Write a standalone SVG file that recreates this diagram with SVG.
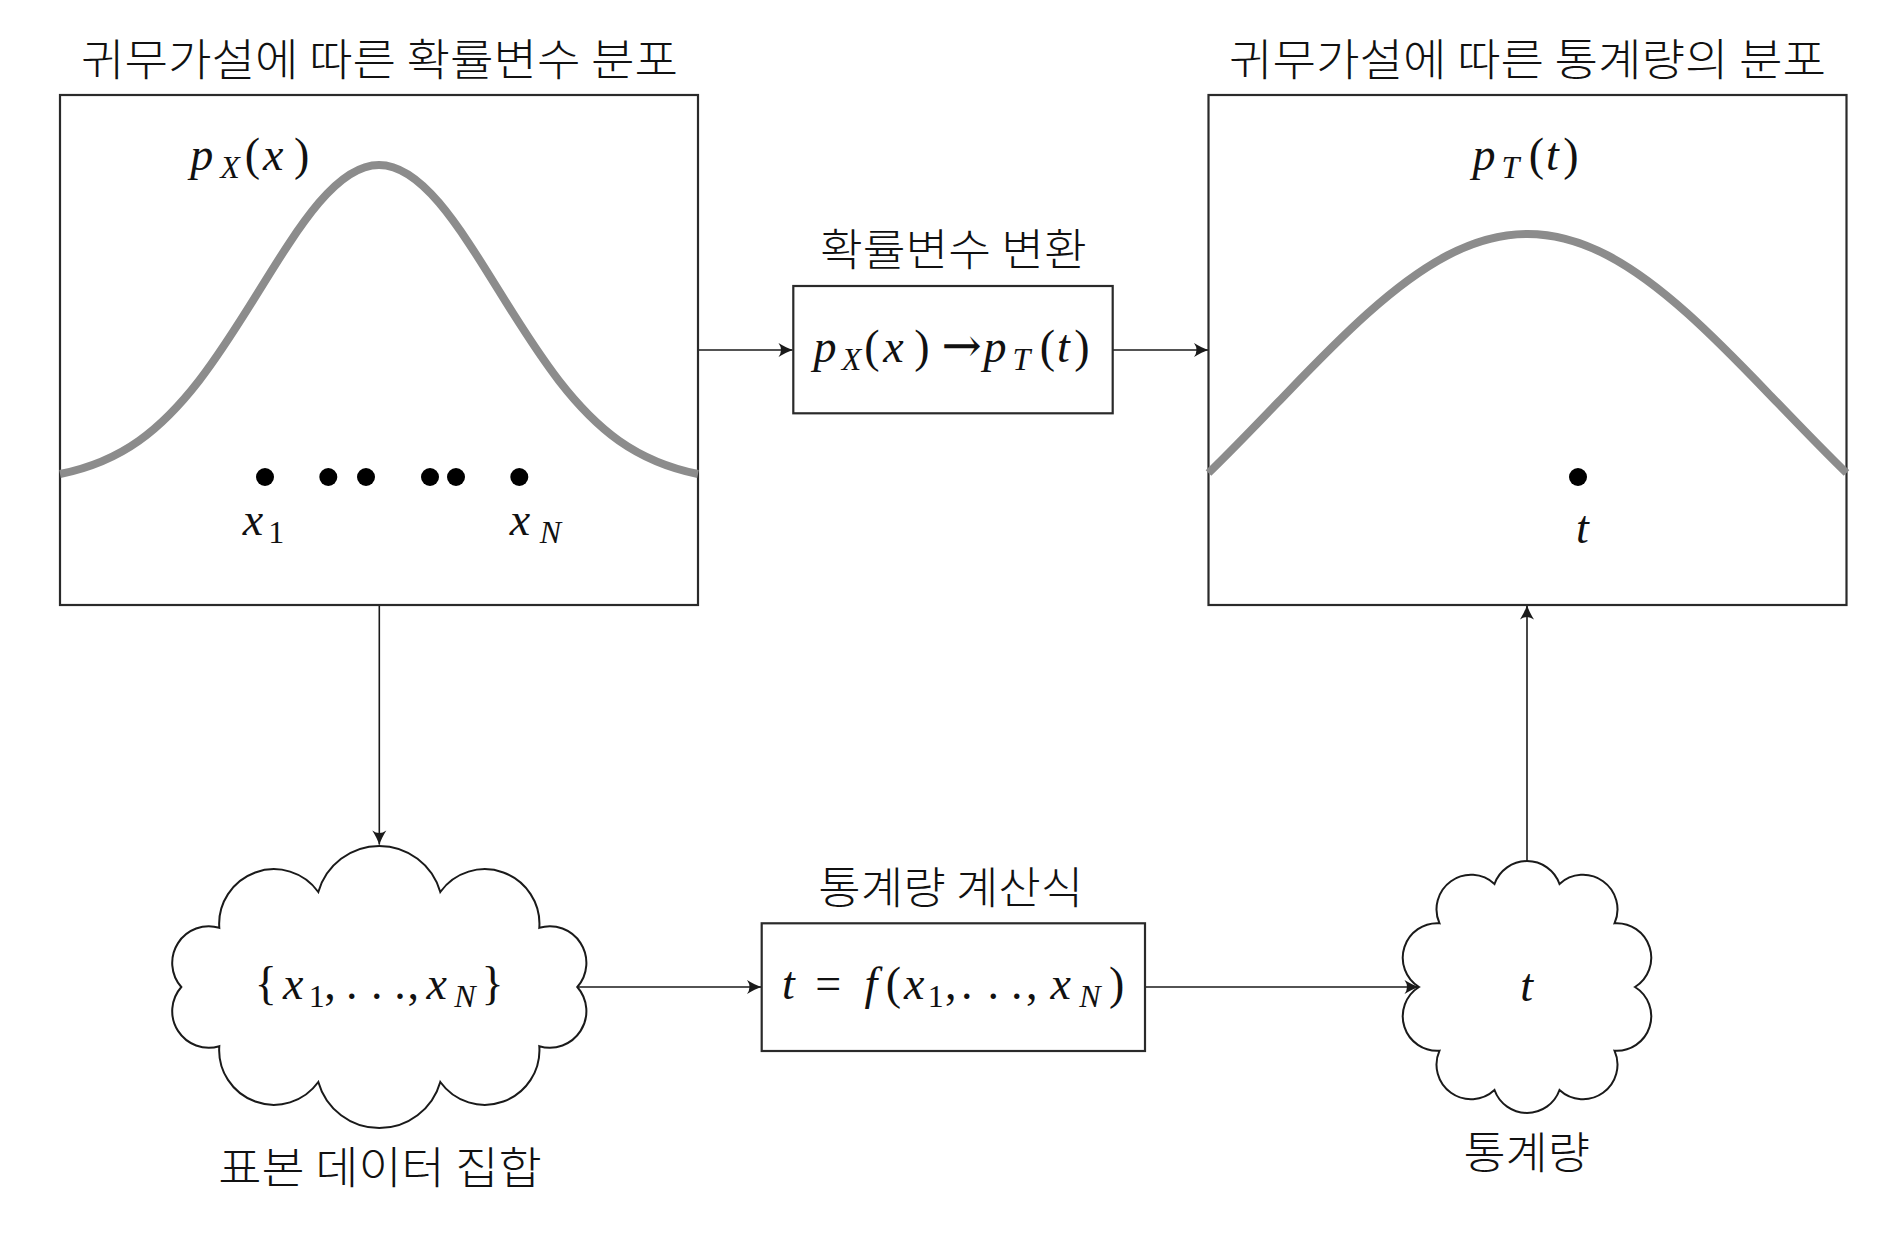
<svg xmlns="http://www.w3.org/2000/svg" width="1890" height="1252" viewBox="0 0 1890 1252">
<defs>
<style>
.box{fill:#fff;stroke:#2a2a2a;stroke-width:2.2}
.cloud{fill:#fff;stroke:#1a1a1a;stroke-width:2}
.curve{fill:none;stroke:#8c8c8c;stroke-width:8}
.conn{fill:none;stroke:#1a1a1a;stroke-width:1.6}
.dot{fill:#000}
.k{font-family:"Noto Sans CJK KR","Noto Sans CJK SC",sans-serif;font-size:44px;font-weight:300;fill:#111;text-anchor:middle}
.m{font-family:"Liberation Serif","DejaVu Serif",serif;font-size:46px;fill:#111;text-anchor:middle}
.i{font-style:italic}
.s{font-size:32px}
.ar{font-family:"DejaVu Serif","Liberation Serif",serif;font-size:48px}
</style>
<marker id="ah" viewBox="-16 -8 17 16" refX="0" refY="0" markerWidth="17" markerHeight="16" markerUnits="userSpaceOnUse" orient="auto">
<path d="M0.5,0 Q-6,-2 -14,-7 Q-9,0 -14,7 Q-6,2 0.5,0 Z" fill="#1a1a1a"/>
</marker>
</defs>
<rect width="1890" height="1252" fill="#fff"/>

<g id="connectors">
<path class="conn" d="M698,350 H792.5" marker-end="url(#ah)"/>
<path class="conn" d="M1112.7,350 H1208" marker-end="url(#ah)"/>
<path class="conn" d="M379.3,605 V844.5" marker-end="url(#ah)"/>
<path class="conn" d="M577.3,987 H761" marker-end="url(#ah)"/>
<path class="conn" d="M1145,987 H1418.5" marker-end="url(#ah)"/>
<path class="conn" d="M1527,861 V605.5" marker-end="url(#ah)"/>
</g>

<g id="null-distribution">
<text class="k" x="379.5" y="75.5" textLength="597" lengthAdjust="spacingAndGlyphs">귀무가설에 따른 확률변수 분포</text>
<rect class="box" x="60" y="95" width="638" height="510"/>
<path class="curve" d="M60,474 C86.33,468.7 112.67,459.42 139,440.7 C159,426.48 179,406.49 199,380.7 C219,354.91 239,323.19 259,290.9 C279,258.61 299,226.25 319,202.7 C339,179.15 359,165 379,165 C399,165 419,179.15 439,202.7 C459,226.25 479,258.61 499,290.9 C519,323.19 539,354.91 559,380.7 C579,406.49 599,426.48 619,440.7 C645.67,459.42 671.67,468.7 698,474"/>
<text class="m"><tspan class="i" x="201.7" y="169.5">p</tspan><tspan class="i s" x="230" y="177.5">X</tspan><tspan x="252.5" y="169.5">(</tspan><tspan class="i" x="273.3" y="169.5">x</tspan><tspan x="301.7" y="169.5">)</tspan></text>
<circle class="dot" cx="265" cy="477" r="9"/>
<circle class="dot" cx="328.3" cy="477" r="9"/>
<circle class="dot" cx="366" cy="477" r="9"/>
<circle class="dot" cx="430" cy="477" r="9"/>
<circle class="dot" cx="456" cy="477" r="9"/>
<circle class="dot" cx="519.3" cy="477" r="9"/>
<text class="m"><tspan class="i" x="253" y="535">x</tspan><tspan class="s" x="276.3" y="543">1</tspan></text>
<text class="m"><tspan class="i" x="520" y="535">x</tspan><tspan class="i s" x="550.3" y="543">N</tspan></text>
</g>

<g id="transform">
<text class="k" x="953.3" y="265.5" textLength="266.7" lengthAdjust="spacingAndGlyphs">확률변수 변환</text>
<rect class="box" x="793.3" y="286" width="319.4" height="127.3"/>
<text class="m"><tspan class="i" x="825" y="362">p</tspan><tspan class="i s" x="851.5" y="370">X</tspan><tspan x="872" y="362">(</tspan><tspan class="i" x="893.5" y="362">x</tspan><tspan x="922" y="362">)</tspan><tspan class="ar" x="961.5" y="362">→</tspan><tspan class="i" x="995" y="362">p</tspan><tspan class="i s" x="1021.5" y="370">T</tspan><tspan x="1047.5" y="362">(</tspan><tspan class="i" x="1063.5" y="362">t</tspan><tspan x="1082" y="362">)</tspan></text>
</g>

<g id="statistic-distribution">
<text class="k" x="1527.5" y="75.5" textLength="597" lengthAdjust="spacingAndGlyphs">귀무가설에 따른 통계량의 분포</text>
<rect class="box" x="1208.5" y="95" width="638" height="510"/>
<path class="curve" d="M1208.5,473 C1234.83,447.46 1261.17,419.76 1287.5,392.4 C1314.17,364.69 1340.83,337.36 1367.5,313.5 C1394.17,289.64 1420.83,269.31 1447.5,255.4 C1474.17,241.49 1500.83,234 1527.5,234 C1554.17,234 1580.83,241.49 1607.5,255.4 C1634.17,269.31 1660.83,289.64 1687.5,313.5 C1714.17,337.36 1740.83,364.69 1767.5,392.4 C1793.83,419.76 1820.17,447.46 1846.5,473"/>
<text class="m"><tspan class="i" x="1484" y="169.5">p</tspan><tspan class="i s" x="1510.5" y="177.5">T</tspan><tspan x="1536.5" y="169.5">(</tspan><tspan class="i" x="1552.5" y="169.5">t</tspan><tspan x="1571" y="169.5">)</tspan></text>
<circle class="dot" cx="1578" cy="477" r="9"/>
<text class="m"><tspan class="i" x="1582.5" y="543">t</tspan></text>
</g>

<g id="sample-set">
<path class="cloud" d="M181.3,987 A36.6,36.6 0 0 1 219.3,927.8 A54.7,54.7 0 0 1 318.3,892 A63.4,63.4 0 0 1 440.3,892 A54.7,54.7 0 0 1 539.3,927.8 A36.6,36.6 0 0 1 577.3,987 A36.6,36.6 0 0 1 539.3,1046.2 A54.7,54.7 0 0 1 440.3,1082 A63.4,63.4 0 0 1 318.3,1082 A54.7,54.7 0 0 1 219.3,1046.2 A36.6,36.6 0 0 1 181.3,987 Z"/>
<text class="m"><tspan x="265.8" y="998.5">{</tspan><tspan class="i" x="293.3" y="998.5">x</tspan><tspan class="s" x="316.7" y="1006.5">1</tspan><tspan x="330" y="998.5">,</tspan><tspan x="351.7 376.7 400" y="998.5">...</tspan><tspan x="413.3" y="998.5">,</tspan><tspan class="i" x="436.7" y="998.5">x</tspan><tspan class="i s" x="465" y="1006.5">N</tspan><tspan x="492.5" y="998.5">}</tspan></text>
<text class="k" x="380" y="1184" textLength="323.3" lengthAdjust="spacingAndGlyphs">표본 데이터 집합</text>
</g>

<g id="statistic-formula">
<text class="k" x="950.8" y="903.5" textLength="265" lengthAdjust="spacingAndGlyphs">통계량 계산식</text>
<rect class="box" x="761.7" y="923.3" width="383.3" height="127.7"/>
<text class="m"><tspan class="i" x="788.3" y="999">t</tspan><tspan x="828.3" y="999">=</tspan><tspan class="i" x="870.8" y="999">f</tspan><tspan x="893.3" y="999">(</tspan><tspan class="i" x="914.2" y="999">x</tspan><tspan class="s" x="935.8" y="1007">1</tspan><tspan x="950.8" y="999">,</tspan><tspan x="966.7 993.3 1016.7" y="999">...</tspan><tspan x="1031.7" y="999">,</tspan><tspan class="i" x="1060.8" y="999">x</tspan><tspan class="i s" x="1090" y="1007">N</tspan><tspan x="1116.7" y="999">)</tspan></text>
</g>

<g id="statistic">
<path class="cloud" d="M1419,987 A34.5,34.5 0 0 1 1439.5,923.3 A34.5,34.5 0 0 1 1494.5,884 A34.5,34.5 0 0 1 1559.5,884 A34.5,34.5 0 0 1 1614.5,923.3 A34.5,34.5 0 0 1 1635,987 A34.5,34.5 0 0 1 1614.5,1050.7 A34.5,34.5 0 0 1 1559.5,1090 A34.5,34.5 0 0 1 1494.5,1090 A34.5,34.5 0 0 1 1439.5,1050.7 A34.5,34.5 0 0 1 1419,987 Z"/>
<text class="m"><tspan class="i" x="1526.7" y="1001">t</tspan></text>
<text class="k" x="1526.7" y="1169" textLength="126.6" lengthAdjust="spacingAndGlyphs">통계량</text>
</g>
</svg>
